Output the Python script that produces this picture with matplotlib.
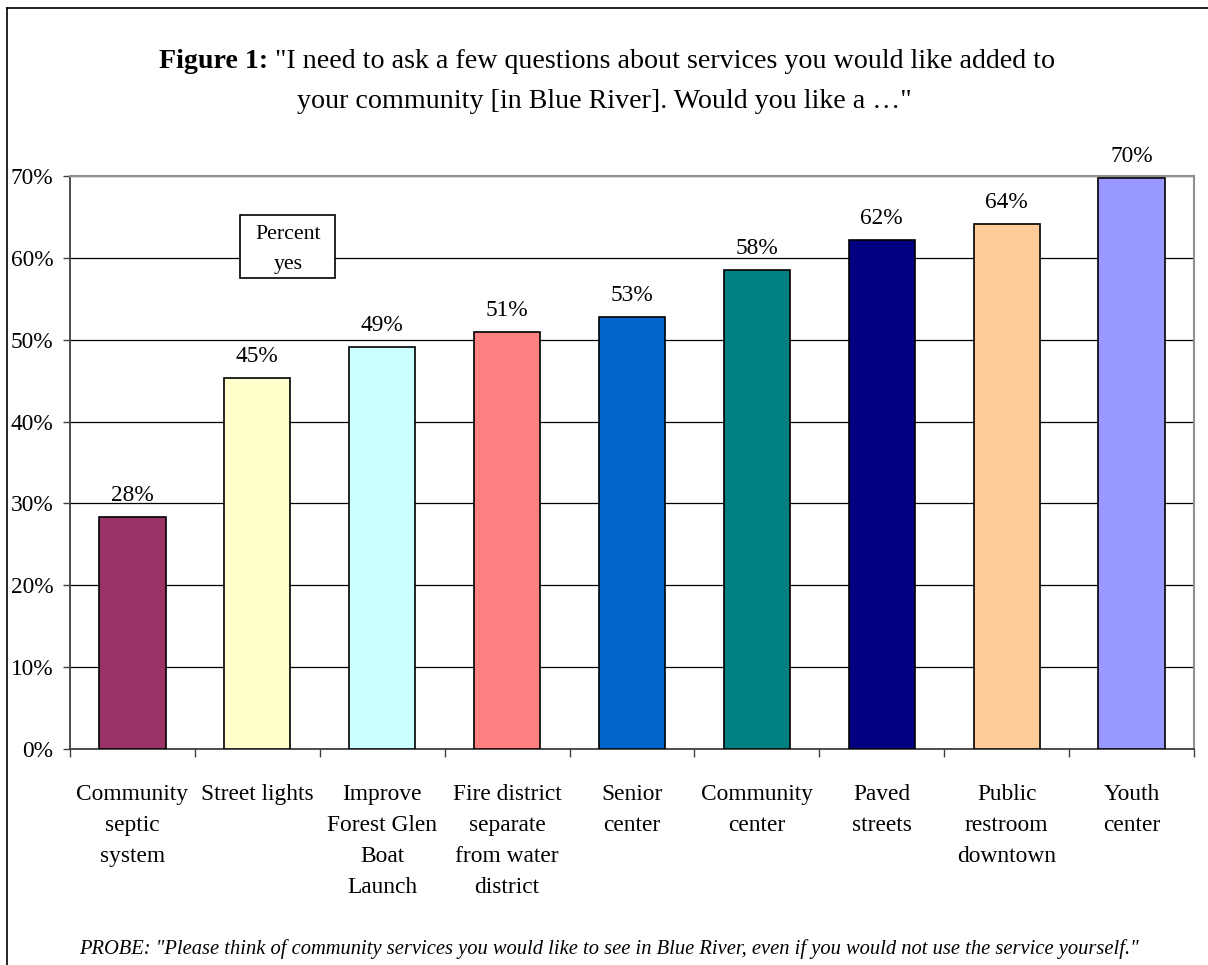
import matplotlib
matplotlib.use("Agg")
import matplotlib.pyplot as plt
from matplotlib.lines import Line2D
from matplotlib.patches import Rectangle
import numpy as np

categories = ["Community\nseptic\nsystem", "Street lights", "Improve\nForest Glen\nBoat\nLaunch",
              "Fire district\nseparate\nfrom water\ndistrict", "Senior\ncenter", "Community\ncenter",
              "Paved\nstreets", "Public\nrestroom\ndowntown", "Youth\ncenter"]
values = [28.3, 45.3, 49.1, 51.0, 52.8, 58.5, 62.2, 64.1, 69.8]
labels = ["28%", "45%", "49%", "51%", "53%", "58%", "62%", "64%", "70%"]
colors = ["#993366", "#FFFFCC", "#CCFFFF", "#FF8080", "#0066CC",
          "#008080", "#000080", "#FFCC99", "#9999FF"]
yticks = [0, 10, 20, 30, 40, 50, 60, 70]

title_bold = "Figure 1:"
title_line1 = ' "I need to ask a few questions about services you would like added to'
title_line2 = 'your community [in Blue River]. Would you like a \u2026"'
probe = ('PROBE: "Please think of community services you would like to see in Blue River, '
         'even if you would not use the service yourself."')

plt.rcParams['font.family'] = ['Liberation Serif', 'DejaVu Serif']

W, H = 1208, 965
fig = plt.figure(figsize=(W / 100, H / 100), dpi=100)
ax = fig.add_axes([70 / W, 1 - 749 / H, (1194 - 70) / W, (749 - 176) / H])

x = np.arange(len(values))
ax.bar(x, values, width=0.53, color=colors, edgecolor='black', linewidth=1.2, zorder=3)
for xi, v, lab in zip(x, values, labels):
    ax.annotate(lab, (xi, v), xytext=(0, 15.5), textcoords='offset points',
                ha='center', va='center', fontsize=16.8)

ax.set_xlim(-0.5, len(values) - 0.5)
ax.set_ylim(0, 70)
ax.set_yticks(yticks)
ax.set_yticklabels([f"{t}%" for t in yticks], fontsize=16.8)
ax.yaxis.grid(True, color='black', linewidth=0.9, zorder=0)
ax.tick_params(axis='y', length=5, width=1, color='#404040', pad=7)

ax.set_xticks(x)
ax.set_xticklabels(categories, fontsize=16.8, va='top')
for t in ax.get_xticklabels():
    t.set_linespacing(1.64)
ax.tick_params(axis='x', length=0, pad=25)
ax.set_xticks(np.arange(len(values) + 1) - 0.5, minor=True)
ax.tick_params(axis='x', which='minor', length=6, width=1, color='#404040')

for s in ['top', 'right']:
    ax.spines[s].set_color('#909090')
    ax.spines[s].set_linewidth(1.5)
for s in ['left', 'bottom']:
    ax.spines[s].set_color('#404040')
    ax.spines[s].set_linewidth(1.3)

# "Percent yes" box
ax.add_patch(Rectangle((0.865, 57.5), 0.76, 7.7, facecolor='white', edgecolor='black',
                       linewidth=1.2, zorder=5))
ax.text(1.245, 61.0, "Percent\nyes", ha='center', va='center', fontsize=15.7,
        linespacing=1.75, zorder=6)

# title with bold lead-in
r = fig.canvas.get_renderer()
tb = fig.text(0, 1 - 62 / H, title_bold, fontsize=20.2, weight='bold', va='center', ha='left')
tn = fig.text(0, 1 - 62 / H, title_line1, fontsize=20.2, va='center', ha='left')
wb = tb.get_window_extent(r).width
wn = tn.get_window_extent(r).width
x0 = (607 - (wb + wn) / 2) / W
tb.set_x(x0)
tn.set_x(x0 + wb / W)
fig.text(604 / W, 1 - 101 / H, title_line2, fontsize=20.2, va='center', ha='center')

fig.text(609 / W, 1 - 949 / H, probe, fontsize=14.75, style='italic', ha='center', va='center')

# outer frame (left and top edges visible)
fig.add_artist(Line2D([7 / W, 7 / W], [0, 1 - 8 / H], color='black', linewidth=1.2))
fig.add_artist(Line2D([7 / W, 1], [1 - 8 / H, 1 - 8 / H], color='black', linewidth=1.2))

fig.savefig("out.png", dpi=100)
